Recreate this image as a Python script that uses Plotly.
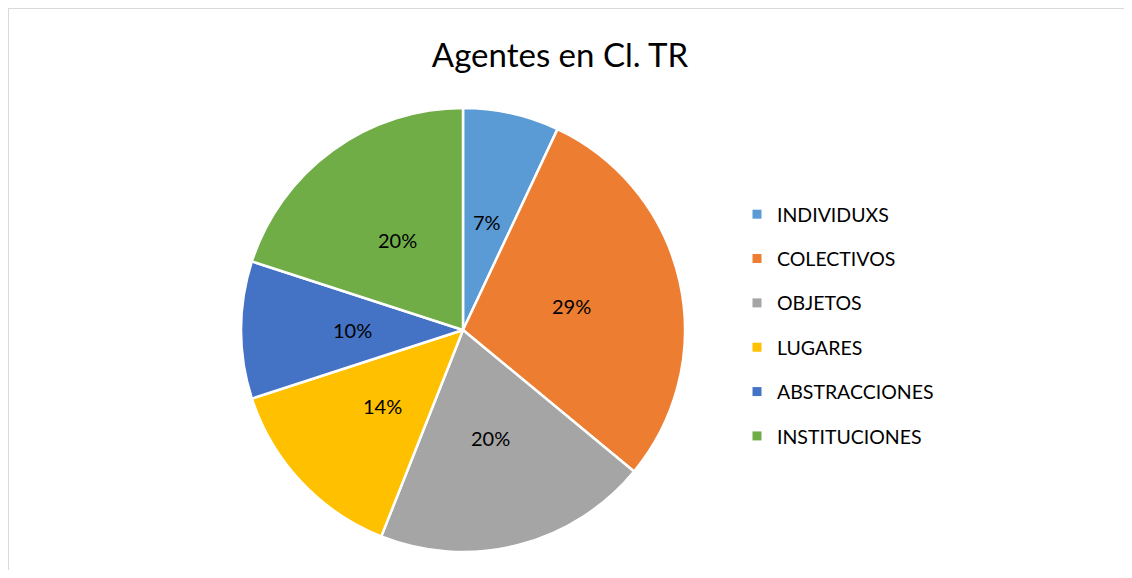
import math
import plotly.graph_objects as go

# data (percent of agents)
categorias = ["INDIVIDUXS", "COLECTIVOS", "OBJETOS", "LUGARES", "ABSTRACCIONES", "INSTITUCIONES"]
porcentajes = [7, 29, 20, 14, 10, 20]
colores = ["#5B9BD5", "#ED7D31", "#A5A5A5", "#FFC000", "#4472C4", "#70AD47"]

PAD = 8  # body margin of the html page
W, H = 1132 - 2 * PAD, 578 - 2 * PAD  # figure size that fits the window
FONT = "Lato, 'Open Sans', sans-serif"


def px_x(x):
    return (x - PAD) / W


def px_y(y):
    return 1 - (y - PAD) / H


# pie geometry in page pixels
CX, CY, R = 463, 330, 222

fig = go.Figure()

fig.add_trace(go.Pie(
    labels=categorias,
    values=porcentajes,
    sort=False,
    direction="clockwise",
    rotation=0,
    marker=dict(colors=colores, line=dict(color="white", width=2.5)),
    textinfo="none",
    domain=dict(x=[px_x(CX - R), px_x(CX + R)], y=[px_y(CY + R), px_y(CY - R)]),
    showlegend=False,
    hoverinfo="label+percent",
))

# percentage labels at half radius on each slice's bisector (like Excel)
total = sum(porcentajes)
acum = 0
etiquetas = []
for v in porcentajes:
    ang = 2 * math.pi * (acum + v / 2) / total
    acum += v
    etiquetas.append(dict(
        x=px_x(CX + 0.5 * R * math.sin(ang)),
        y=px_y(CY - 0.5 * R * math.cos(ang)),
        xref="paper", yref="paper",
        text=f"{round(100 * v / total)}%",
        showarrow=False,
        font=dict(family=FONT, size=20, color="black"),
        xanchor="center", yanchor="middle",
    ))

# legend entries, one group each
for cat, col in zip(categorias, colores):
    fig.add_trace(go.Scatter(
        x=[None], y=[None],
        mode="markers",
        marker=dict(symbol="square", size=9, color=col),
        name=cat,
        legendgroup=cat,
        showlegend=True,
        hoverinfo="skip",
    ))

# chart-area border: only the top and left edges are inside the window
borde = dict(color="#D9D9D9", width=2)

fig.update_layout(
    width=W, height=H,
    margin=dict(l=0, r=0, t=0, b=0),
    paper_bgcolor="white",
    plot_bgcolor="white",
    title=dict(
        text="Agentes en Cl. TR",
        x=px_x(560), xanchor="center",
        y=px_y(55), yanchor="middle",
        font=dict(family=FONT, size=33, color="black"),
    ),
    xaxis=dict(visible=False),
    yaxis=dict(visible=False),
    legend=dict(
        x=px_x(737), xanchor="left",
        y=px_y(195), yanchor="top",
        font=dict(family=FONT, size=19.5, color="black"),
        traceorder="grouped",
        tracegroupgap=16,
        itemclick=False,
        bgcolor="rgba(0,0,0,0)",
    ),
    annotations=etiquetas,
    shapes=[
        dict(type="line", xref="paper", yref="paper",
             x0=px_x(8), x1=1, y0=px_y(8), y1=px_y(8), line=borde, layer="below"),
        dict(type="line", xref="paper", yref="paper",
             x0=px_x(8), x1=px_x(8), y0=0, y1=px_y(8), line=borde, layer="below"),
    ],
)

fig.write_html("out.html")
